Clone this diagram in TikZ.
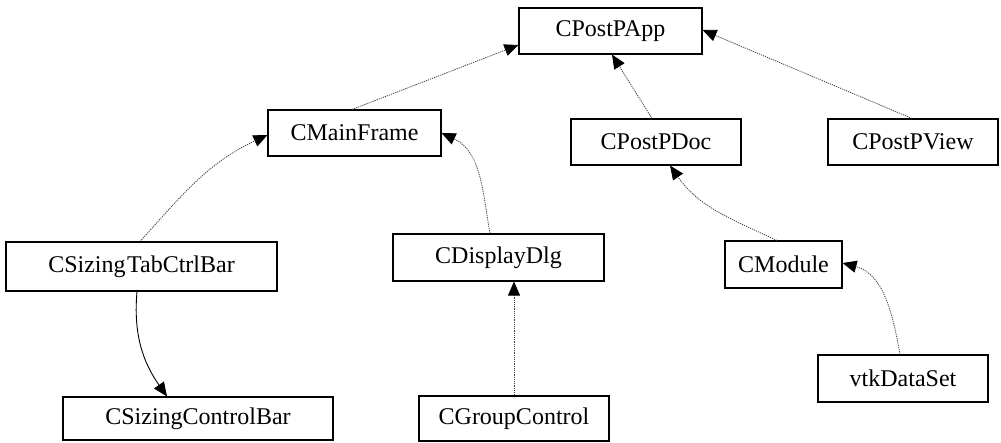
\documentclass[tikz,border=0pt]{standalone}
\usepackage{fontspec}
\setmainfont{Liberation Serif}
\newfontfamily\tnr{Liberation Serif}
\usetikzlibrary{arrows.meta}
\begin{document}
\begin{tikzpicture}[x=1pt,y=-1pt,
  cls/.style={draw=black,line width=1.1pt,fill=white,inner sep=0pt,font=\tnr\fontsize{24}{28}\selectfont},
  dep/.style={draw=black!75,line width=0.8pt,dash pattern=on 1.2pt off 1pt,-{Triangle[length=14pt,width=12pt,color=black,fill=black]}},
  sol/.style={draw=black,line width=0.9pt,-{Triangle[length=14pt,width=12pt]}}]
\useasboundingbox (0,0) rectangle (1001,442);
\node[cls,minimum width=183pt,minimum height=46pt] (app) at (610.5,31) {CPostPApp};
\node[cls,minimum width=173pt,minimum height=46pt] (main) at (354.5,133) {CMainFrame};
\node[cls,minimum width=170pt,minimum height=46pt] (doc) at (656,142) {CPostPDoc};
\node[cls,minimum width=170pt,minimum height=46pt] (view) at (913,142) {CPostPView};
\node[cls,minimum width=271pt,minimum height=49pt] (tab) at (141.5,266.5) {CSizing\hspace{1.5pt}TabCtrlBar};
\node[cls,minimum width=211pt,minimum height=47pt] (disp) at (498.5,257.5) {CDisplayDlg};
\node[cls,minimum width=117pt,minimum height=47pt] (module) at (783.5,264.5) {CModule};
\node[cls,minimum width=170pt,minimum height=47pt] (vtk) at (903,378.5) {vtkDataSet};
\node[cls,minimum width=270pt,minimum height=43pt] (scb) at (198,418.5) {CSizingControlBar};
\node[cls,minimum width=190pt,minimum height=45pt] (group) at (514,418.5) {CGroupControl};

\draw[dep] ([xshift=-2.5pt]main.north) -- ([yshift=-14pt]app.west);
\draw[dep] ([xshift=-4pt]doc.north) -- ([xshift=1.5pt]app.south);
\draw[dep] ([xshift=-1pt]view.north) -- ([yshift=1pt]app.east);
\draw[dep] ([xshift=-1.5pt]tab.north) to[out=48,in=205] ([yshift=-2pt]main.west);
\draw[dep] ([xshift=-8.5pt]disp.north) to[out=100,in=-25] (main.east);
\draw[dep] (group.north) -- (group.north |- disp.south);
\draw[dep] ([xshift=-6.5pt]module.north) to[out=155,in=-55] ([xshift=14pt]doc.south);
\draw[dep] ([xshift=-3pt]vtk.north) to[out=100,in=-15] ([yshift=1.5pt]module.east);
\draw[sol] ([xshift=-4.5pt]tab.south) to[out=-95,in=125] ([xshift=-31pt]scb.north);
\end{tikzpicture}
\end{document}
